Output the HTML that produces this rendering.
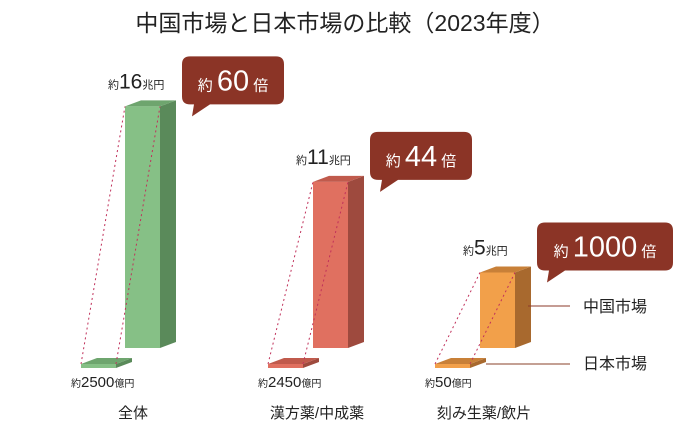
<!DOCTYPE html>
<html><head><meta charset="utf-8">
<style>
html,body{margin:0;padding:0;background:#fff;}
svg{display:block;font-family:"Liberation Sans","Noto Sans CJK JP",sans-serif;}
</style></head>
<body>
<svg id="chart" width="690" height="428" viewBox="0 0 690 428">
<text x="345" y="31" text-anchor="middle" font-size="23" fill="#222">中国市場と日本市場の比較（2023年度）</text>
<g id="bars"></g>
<line x1="528" y1="306" x2="570" y2="306" stroke="#8b3a2a" stroke-width="1"/>
<text x="583" y="312" font-size="16" fill="#222">中国市場</text>
<line x1="486" y1="364" x2="570" y2="364" stroke="#b08070" stroke-width="1.5"/>
<text x="583" y="369" font-size="16" fill="#222">日本市場</text>
</svg>
<script>
const categories = ["全体", "漢方薬/中成薬", "刻み生薬/飲片"];
const chinaValues = [16, 11, 5];          // 兆円
const japanValues = [2500, 2450, 50];     // 億円
const ratioLabels = ["60", "44", "1000"];
const chinaLabels = ["16", "11", "5"];
const japanLabels = ["2500", "2450", "50"];

const NS = "http://www.w3.org/2000/svg";
const g = document.getElementById("bars");
const baseY = 348, smallBaseY = 368, scale = 15.1;
const bigX = [125, 313, 480], smallX = [81, 268, 435], W = 35, DX = 16, DY = 6;
const colors = [
  {front:"#86c086", side:"#5a8a5a", top:"#6ea56e"},
  {front:"#e07060", side:"#9e4a3e", top:"#c05a4c"},
  {front:"#f2a04a", side:"#a8692e", top:"#c88038"}
];
function y(v){ return baseY - v*scale; }
function el(tag, attrs, name){
  const e = document.createElementNS(NS, tag);
  for (const k in attrs) e.setAttribute(k, attrs[k]);
  
  
  g.appendChild(e);
  return e;
}
function box(x, top, bottom, c, name){
  el("polygon",{points:`${x+W},${top} ${x+W+DX},${top-DY} ${x+W+DX},${bottom-DY} ${x+W},${bottom}`,fill:c.side},name+"-side");
  el("polygon",{points:`${x},${top} ${x+DX},${top-DY} ${x+W+DX},${top-DY} ${x+W},${top}`,fill:c.top},name+"-top");
  el("rect",{x:x,y:top,width:W,height:bottom-top,fill:c.front},name+"-front");
}
categories.forEach((cat,i)=>{
  const c = colors[i];
  const top = y(chinaValues[i]);
  const jh = Math.max(japanValues[i]/10000*scale, 4);
  const jtop = smallBaseY - jh;
  box(smallX[i], jtop, smallBaseY, c, "japan-bar-"+i);
  box(bigX[i], top, baseY, c, "china-bar-"+i);
  el("line",{x1:smallX[i],y1:jtop,x2:bigX[i],y2:top,stroke:"#c0305a","stroke-width":1,"stroke-dasharray":"2,3"},"guide-line-a-"+i);
  el("line",{x1:smallX[i]+W,y1:jtop,x2:bigX[i]+W,y2:top,stroke:"#c0305a","stroke-width":1,"stroke-dasharray":"2,3"},"guide-line-b-"+i);
  const t = el("text",{x:bigX[i]-17,y:top-18,"font-size":11,fill:"#222"},"china-value-"+i);
  t.innerHTML = `約<tspan font-size="21">${chinaLabels[i]}</tspan>兆円`;
  const t2 = el("text",{x:smallX[i]-10,y:smallBaseY+19,"font-size":10,fill:"#222"},"japan-value-"+i);
  t2.innerHTML = `約<tspan font-size="15">${japanLabels[i]}</tspan>億円`;
  const bx = bigX[i]+57, by = top-50, bw = ratioLabels[i].length>2?136:102, bh = 48;
  el("path",{d:`M${bx+8},${by} h${bw-16} q8,0 8,8 v${bh-16} q0,8 -8,8 H${bx+28} L${bx+10},${by+bh+12} L${bx+12},${by+bh} H${bx+8} q-8,0 -8,-8 v${-(bh-16)} q0,-8 8,-8z`,fill:"#8b3426"},"ratio-callout-"+i);
  const t3 = el("text",{x:bx+bw/2,y:by+34,"text-anchor":"middle","font-size":15,fill:"#fff"},"ratio-label-"+i);
  t3.innerHTML = `約 <tspan font-size="29">${ratioLabels[i]}</tspan> 倍`;
  el("text",{x:[133,317,484][i],y:418,"text-anchor":"middle","font-size":15,fill:"#222"},"category-label-"+i).textContent = cat;
});
</script>
</body></html>
